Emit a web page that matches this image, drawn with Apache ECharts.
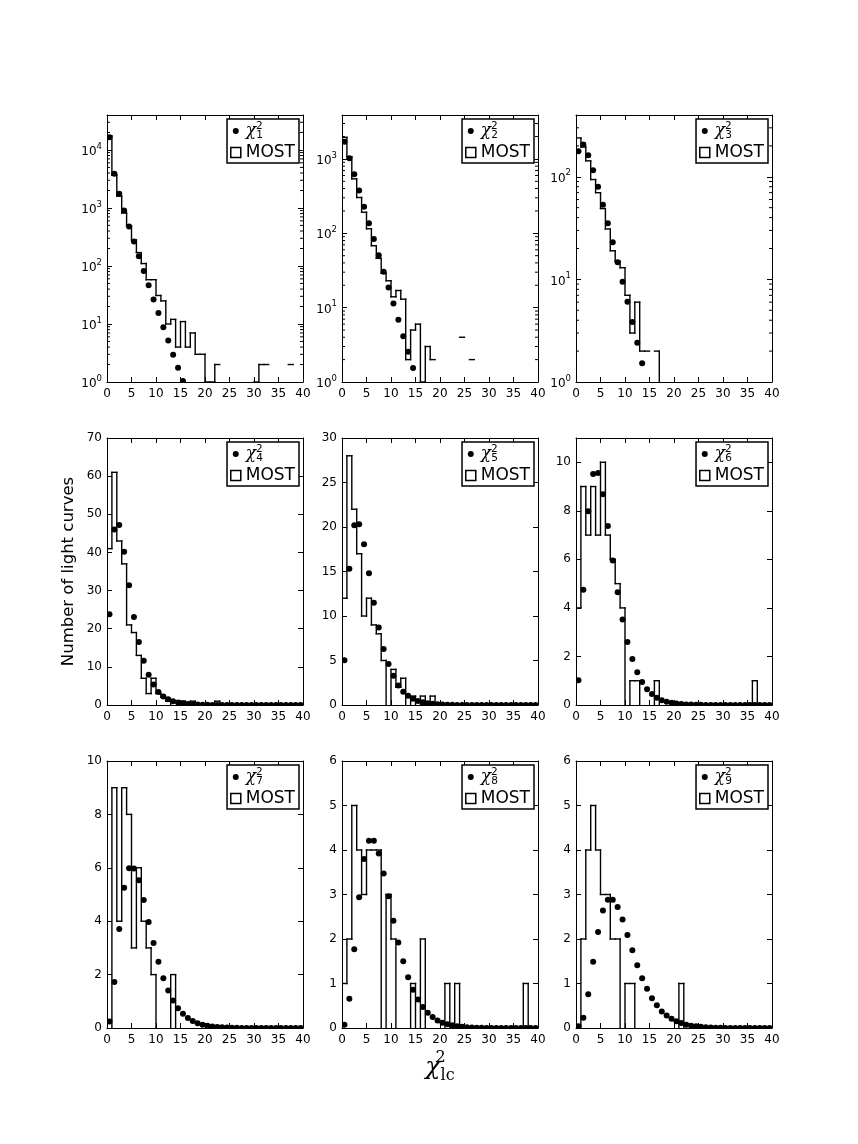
<!DOCTYPE html>
<html><head><meta charset="utf-8">
<script src="https://cdn.jsdelivr.net/npm/echarts@6/dist/echarts.min.js"></script>
<style>html,body{margin:0;padding:0;background:#fff}#c{width:858px;height:1144px}</style>
</head><body><div id="c"></div>
<script>
// ---- data ----
// expected chi-square counts at bin centres 0.5, 1.5, ...
const CHI_1 = [16500, 3870, 1750, 906, 481, 265, 147, 82, 46.5, 26.4, 15.4, 8.8, 5.2, 2.95, 1.76, 1.04];
const CHI_2 = [1706, 1020, 622, 376, 227, 137, 83.6, 50.5, 30.5, 18.6, 11.4, 6.85, 4.14, 2.55, 1.54];
const CHI_3 = [177, 206, 162, 116, 80, 53.5, 35.2, 23, 14.7, 9.5, 6.07, 3.85, 2.41, 1.52];
const CHI_4 = [23.8, 46.0, 47.2, 40.2, 31.4, 23.1, 16.5, 11.6, 7.95, 5.4, 3.4, 2.2, 1.5, 1.0, 0.68, 0.44, 0.28, 0.18, 0.12, 0.07, 0.05, 0.03, 0.02, 0.01, 0.01, 0, 0, 0, 0, 0, 0, 0, 0, 0, 0, 0, 0, 0, 0, 0];
const CHI_5 = [5.02, 15.3, 20.2, 20.3, 18.05, 14.8, 11.5, 8.7, 6.3, 4.6, 3.3, 2.2, 1.5, 1.05, 0.7, 0.45, 0.3, 0.2, 0.13, 0.08, 0.05, 0.03, 0.02, 0.01, 0.01, 0, 0, 0, 0, 0, 0, 0, 0, 0, 0, 0, 0, 0, 0, 0];
const CHI_6 = [1.02, 4.75, 7.98, 9.52, 9.56, 8.68, 7.37, 5.95, 4.64, 3.52, 2.6, 1.9, 1.35, 0.95, 0.65, 0.45, 0.3, 0.2, 0.13, 0.09, 0.06, 0.04, 0.025, 0.016, 0.01, 0.006, 0, 0, 0, 0, 0, 0, 0, 0, 0, 0, 0, 0, 0, 0];
const CHI_7 = [0.24, 1.72, 3.71, 5.25, 5.98, 5.97, 5.53, 4.79, 3.97, 3.18, 2.48, 1.86, 1.4, 1.03, 0.74, 0.53, 0.37, 0.26, 0.18, 0.12, 0.08, 0.055, 0.036, 0.024, 0.016, 0.01, 0.007, 0, 0, 0, 0, 0, 0, 0, 0, 0, 0, 0, 0, 0];
const CHI_8 = [0.075, 0.66, 1.77, 2.94, 3.8, 4.21, 4.21, 3.92, 3.47, 2.96, 2.41, 1.92, 1.5, 1.14, 0.86, 0.64, 0.47, 0.34, 0.25, 0.17, 0.12, 0.085, 0.06, 0.04, 0.027, 0.018, 0.012, 0.008, 0.005, 0, 0, 0, 0, 0, 0, 0, 0, 0, 0, 0];
const CHI_9 = [0.04, 0.23, 0.76, 1.49, 2.16, 2.64, 2.88, 2.88, 2.72, 2.44, 2.09, 1.75, 1.41, 1.12, 0.88, 0.67, 0.51, 0.37, 0.28, 0.21, 0.15, 0.11, 0.075, 0.053, 0.037, 0.026, 0.018, 0.012, 0.008, 0.005, 0, 0, 0, 0, 0, 0, 0, 0, 0, 0];
// MOST histogram counts, bins [0,1), [1,2), ...
const MOST_1 = [17400, 3700, 1600, 820, 490, 280, 170, 110, 58, 58, 31, 25, 10, 12, 4, 11, 4, 7, 3, 3, 1, 1, 2, 0, 0, 0, 0, 0, 0, 0, 1, 2, 2, 0, 0, 0, 0, 2, 0, 0];
const MOST_2 = [1950, 1070, 540, 303, 192, 115, 68, 46, 29, 23, 14, 17, 13, 2, 5, 6, 1, 3, 2, 0, 0, 0, 0, 0, 4, 0, 2, 0, 0, 0, 0, 0, 0, 0, 0, 0, 0, 0, 0, 0];
const MOST_3 = [239, 195, 143, 94, 70, 49, 31, 19, 15, 13, 7, 3, 6, 2, 2, 0, 2];
const MOST_4 = [41, 61, 43, 37, 21, 19, 13, 7, 3, 7, 3, 2, 1, 0, 0, 1, 0, 1, 0, 0, 0, 0, 1, 0, 0, 0, 0, 0, 0, 0, 0, 0, 0, 0, 0, 0, 0, 0, 0, 0];
const MOST_5 = [12, 28, 22, 17, 10, 12, 9, 8, 5, 0, 4, 2, 3, 0, 1, 0, 1, 0, 1, 0, 0, 0, 0, 0, 0, 0, 0, 0, 0, 0, 0, 0, 0, 0, 0, 0, 0, 0, 0, 0];
const MOST_6 = [4, 9, 7, 9, 7, 10, 7, 6, 5, 4, 0, 1, 1, 0, 0, 0, 1, 0, 0, 0, 0, 0, 0, 0, 0, 0, 0, 0, 0, 0, 0, 0, 0, 0, 0, 0, 1, 0, 0, 0];
const MOST_7 = [0, 9, 4, 9, 8, 3, 6, 4, 3, 2, 0, 0, 0, 2, 0, 0, 0, 0, 0, 0, 0, 0, 0, 0, 0, 0, 0, 0, 0, 0, 0, 0, 0, 0, 0, 0, 0, 0, 0, 0];
const MOST_8 = [1, 2, 5, 4, 3, 4, 4, 4, 0, 3, 2, 0, 0, 0, 1, 0, 2, 0, 0, 0, 0, 1, 0, 1, 0, 0, 0, 0, 0, 0, 0, 0, 0, 0, 0, 0, 0, 1, 0, 0];
const MOST_9 = [0, 2, 4, 5, 4, 3, 3, 2, 2, 0, 1, 1, 0, 0, 0, 0, 0, 0, 0, 0, 0, 1, 0, 0, 0, 0, 0, 0, 0, 0, 0, 0, 0, 0, 0, 0, 0, 0, 0, 0];
// axis ranges
const Y_MAX = [40000, 3900, 400, 70, 30, 11, 10, 6, 6];
const Y_INTERVAL = [null, null, null, 10, 5, 2, 2, 1, 1];
const Y_LOG = [true, true, true, false, false, false, false, false, false];
const X_RANGE = [0, 40];
const X_INTERVAL = 5;
const LOG_MINOR = [2, 3, 4, 5, 6, 7, 8, 9];

const CHIS = [CHI_1, CHI_2, CHI_3, CHI_4, CHI_5, CHI_6, CHI_7, CHI_8, CHI_9];
const MOSTS = [MOST_1, MOST_2, MOST_3, MOST_4, MOST_5, MOST_6, MOST_7, MOST_8, MOST_9];

// ---- layout ----
const LEFTS = [107, 342, 576], TOPS = [115, 438, 761], W = 196, H = 267;
const FONT = 'DejaVu Sans';
const SERIF = 'DejaVu Serif';
const DOT_ICON = 'path://M0,0M10,10M2,5A3,3,0,1,0,8,5A3,3,0,1,0,2,5Z';

const grid = [], xAxis = [], yAxis = [], series = [], legend = [];

function histSeries(k, counts, isLog, base) {
  return {
    type: 'custom', name: 'MOST', xAxisIndex: 2 * k, yAxisIndex: 2 * k, clip: true, silent: true,
    itemStyle: { color: '#000' }, z: 3,
    data: counts.map((c, i) => [i + 0.5, (isLog && c <= 0) ? base : c]),
    renderItem: function (params, api) {
      const i = params.dataIndex, c = counts[i], n = counts.length;
      const prev = i > 0 ? counts[i - 1] : 0;
      const px = x => api.coord([x, base])[0];
      const py = v => api.coord([0, (isLog && v <= 0) ? base : v])[1];
      const seg = (x1, y1, x2, y2) => ({ type: 'line', shape: { x1, y1, x2, y2 }, style: { stroke: '#000', lineWidth: 1.4, lineCap: 'square' } });
      const ch = [];
      const xl = px(i), xr = px(i + 1);
      if (c > 0) ch.push(seg(xl, py(c), xr, py(c)));
      if (i === 0) { if (c > 0) ch.push(seg(xl, py(base), xl, py(c))); }
      else if (isLog ? (prev > 0 && c > 0) : prev !== c) ch.push(seg(xl, py(prev), xl, py(c)));
      if (i === n - 1 && c > 0) ch.push(seg(xr, py(c), xr, py(base)));
      return { type: 'group', children: ch };
    }
  };
}

function dotSeries(k, vals) {
  return {
    type: 'custom', name: 'chi' + (k + 1), xAxisIndex: 2 * k, yAxisIndex: 2 * k, clip: true, silent: true,
    itemStyle: { color: '#000' }, z: 4,
    data: vals.map((v, i) => [i + 0.5, v]),
    renderItem: function (params, api) {
      const p = api.coord([api.value(0), api.value(1)]);
      return { type: 'circle', shape: { cx: p[0], cy: p[1], r: 3 }, style: { fill: '#000' } };
    }
  };
}

function minorSeries(k, maxV) {
  const vals = [];
  for (let d = 1; d < maxV; d *= 10) LOG_MINOR.forEach(m => { if (m * d < maxV) vals.push([0, m * d]); });
  return {
    type: 'custom', xAxisIndex: 2 * k, yAxisIndex: 2 * k, silent: true, z: 5,
    data: vals,
    renderItem: function (params, api) {
      const v = api.value(1);
      const pl = api.coord([X_RANGE[0], v]), pr = api.coord([X_RANGE[1], v]);
      const st = { stroke: '#000', lineWidth: 1 };
      return { type: 'group', children: [
        { type: 'line', shape: { x1: pl[0], y1: pl[1], x2: pl[0] + 3, y2: pl[1] }, style: st },
        { type: 'line', shape: { x1: pr[0] - 3, y1: pr[1], x2: pr[0], y2: pr[1] }, style: st }
      ] };
    }
  };
}

const axLine = { show: true, onZero: false, lineStyle: { color: '#000', width: 1 } };
const tick = { show: true, inside: true, length: 5, lineStyle: { color: '#000', width: 1 } };
const lblStyle = { color: '#000', fontSize: 12, fontFamily: FONT };

for (let k = 0; k < 9; k++) {
  const r = Math.floor(k / 3), c = k % 3;
  const isLog = Y_LOG[k];
  grid.push({ left: LEFTS[c], top: TOPS[r], width: W, height: H, containLabel: false });
  const xBase = { type: 'value', gridIndex: k, min: X_RANGE[0], max: X_RANGE[1], interval: X_INTERVAL, axisLine: axLine, axisTick: tick, splitLine: { show: false } };
  const xb = Object.assign({}, xBase, { position: 'bottom', axisLabel: Object.assign({ show: true, margin: 6, showMinLabel: true, showMaxLabel: true }, lblStyle) });
  if (k === 7) {
    Object.assign(xb, {
      name: '{c|χ}{u|2}{d|lc}', nameLocation: 'middle', nameGap: 22,
      nameTextStyle: { color: '#000', rich: {
        c: { fontFamily: SERIF, fontStyle: 'italic', fontSize: 25, color: '#000', lineHeight: 34, verticalAlign: 'middle' },
        u: { fontFamily: SERIF, fontSize: 16, color: '#000', width: 0.1, verticalAlign: 'top', lineHeight: 16 },
        d: { fontFamily: SERIF, fontSize: 16, color: '#000', verticalAlign: 'bottom', lineHeight: 16 }
      } }
    });
  }
  xAxis.push(xb);
  xAxis.push(Object.assign({}, xBase, { position: 'top', axisLabel: { show: false } }));

  const yBase = isLog
    ? { type: 'log', logBase: 10, min: 1, max: Y_MAX[k] }
    : { type: 'value', min: 0, max: Y_MAX[k], interval: Y_INTERVAL[k] };
  Object.assign(yBase, { gridIndex: k, axisLine: axLine, axisTick: tick, splitLine: { show: false } });
  const yl = Object.assign({}, yBase, { position: 'left' });
  if (isLog) {
    yl.axisLabel = { show: true, margin: 5, showMaxLabel: false, showMinLabel: true,
      formatter: v => '{a|10}{b|' + Math.round(Math.log10(v)) + '}',
      rich: { a: { fontSize: 12, fontFamily: FONT, color: '#000', padding: [4, 0, 0, 0] },
              b: { fontSize: 8.5, fontFamily: FONT, color: '#000', verticalAlign: 'top' } } };
  } else {
    yl.axisLabel = Object.assign({ show: true, margin: 5, showMaxLabel: Y_MAX[k] % Y_INTERVAL[k] === 0, showMinLabel: true }, lblStyle);
  }
  if (k === 3) {
    Object.assign(yl, { name: 'Number of light curves', nameLocation: 'middle', nameGap: 30,
      nameTextStyle: { color: '#000', fontSize: 16.5, fontFamily: FONT } });
  }
  yAxis.push(yl);
  yAxis.push(Object.assign({}, yBase, { position: 'right', axisLabel: { show: false } }));

  series.push(histSeries(k, MOSTS[k], isLog, isLog ? 1 : 0));
  series.push(dotSeries(k, CHIS[k]));
  if (isLog) series.push(minorSeries(k, Y_MAX[k]));

  legend.push({
    show: true, orient: 'vertical', right: 858 - (LEFTS[c] + W) + 4, top: TOPS[r] + 4,
    data: [
      { name: 'chi' + (k + 1), icon: DOT_ICON, itemStyle: { color: '#000', borderWidth: 0 } },
      { name: 'MOST', icon: 'rect', itemStyle: { color: '#fff', borderColor: '#000', borderWidth: 1.5 } }
    ],
    itemWidth: 10, itemHeight: 10, itemGap: 3, padding: [2, 4, 2, 3],
    borderColor: '#000', borderWidth: 1.5, backgroundColor: '#fff', borderRadius: 0,
    selectedMode: false, z: 10,
    formatter: name => name.indexOf('chi') === 0 ? '{c|χ}{u|2}{d|' + name.slice(3) + '}' : '{m|MOST}',
    textStyle: { color: '#000', fontFamily: FONT, fontSize: 17, rich: {
      c: { fontFamily: SERIF, fontStyle: 'italic', fontSize: 17, color: '#000', lineHeight: 20 },
      u: { fontFamily: FONT, fontSize: 10.5, color: '#000', width: 0.1, verticalAlign: 'top', lineHeight: 10 },
      d: { fontFamily: FONT, fontSize: 10.5, color: '#000', verticalAlign: 'bottom', lineHeight: 10 },
      m: { fontFamily: FONT, fontSize: 17, color: '#000', lineHeight: 20 }
    } }
  });
}

const chart = echarts.init(document.getElementById('c'), null, { renderer: 'canvas', width: 858, height: 1144 });
chart.setOption({ animation: false, backgroundColor: '#fff', grid, xAxis, yAxis, series, legend, tooltip: { show: false } });
</script>
</body></html>
